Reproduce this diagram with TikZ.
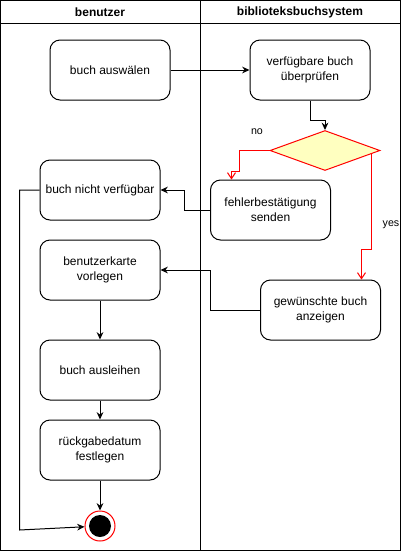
\documentclass[tikz,border=0pt]{standalone}
\usepackage{fontspec}
\setmainfont{Liberation Sans}
\usetikzlibrary{arrows.meta,shapes.geometric,calc}
\definecolor{rautegelb}{HTML}{FFFFC0}

\begin{document}
\begin{tikzpicture}[x=0.75pt,y=-0.75pt,line width=0.75pt,
  font=\fontsize{9}{11}\selectfont,
  aktion/.style={draw,rounded corners=7.5pt,minimum width=90pt,minimum height=45pt,align=center},
  pfeil/.style={-{Stealth[length=5.5pt,width=5pt]}},
  rotpfeil/.style={red,-{Straight Barb[length=4.5pt,width=6pt]}}]
  \useasboundingbox (0,0) rectangle (401,551);

  % Bahnen
  \draw (0.5,0.5) rectangle (400.5,550.5);
  \draw (0.5,23) -- (400.5,23);
  \draw (200.5,0.5) -- (200.5,550.5);
  \node[font=\fontsize{9}{11}\selectfont\bfseries] (kopfa) at (100,12) {benutzer};
  \node[font=\fontsize{9}{11}\selectfont\bfseries] (kopfb) at (300,12) {biblioteksbuchsystem};

  % Aktionen
  \node[aktion] (auswahl) at (110,70) {buch auswälen};
  \node[aktion] (pruefen) at (310,70) {verfügbare buch\\überprüfen};
  \node[diamond,draw=red,fill=rautegelb,inner sep=0pt,minimum width=82.5pt,minimum height=30pt] (raute) at (325,150.5) {};
  \node[aktion] (fehler) at (270.5,210) {fehlerbestätigung\\senden};
  \node[aktion] (nicht) at (100,190) {buch nicht verfügbar};
  \node[aktion] (karte) at (100,270) {benutzerkarte\\vorlegen};
  \node[aktion] (anzeigen) at (320.5,310) {gewünschte buch\\anzeigen};
  \node[aktion] (ausleihen) at (100,370) {buch ausleihen};
  \node[aktion] (rueckgabe) at (100,450) {rückgabedatum\\festlegen};
  \node[circle,draw=red,fill=white,minimum size=22.5pt,inner sep=0pt] (ende) at (100,526) {};
  \node[circle,fill=black,minimum size=16.5pt,inner sep=0pt] (endekern) at (ende.center) {};

  % Beschriftungen
  \node[font=\fontsize{8}{10}\selectfont] (nein) at (257,132) {no};
  \node[font=\fontsize{8}{10}\selectfont] (ja) at (391,225) {yes};

  % Verbindungen
  \draw[pfeil] (auswahl.east) -- (pruefen.west);
  \draw[pfeil] (pruefen.south) -- ++(0,20) -| (raute.north);
  \draw[rotpfeil] (raute.west) -- ++(-30,0) -- ++(0,21) -| ($(fehler.north)+(-39,0)$);
  \coordinate (jastart) at ($(raute.east)!0.16!(raute.south)$);
  \draw[rotpfeil] (jastart) |- ($(anzeigen.north)+(41,-30)$) -- ($(anzeigen.north)+(41,0)$);
  \draw[pfeil] (fehler.west) -- ++(-26,0) |- (nicht.east);
  \draw[pfeil] (anzeigen.west) -- ++(-50,0) |- (karte.east);
  \draw[pfeil] (nicht.west) -- ++(-20,0) -- ++(0,340) -- (ende);
  \draw[pfeil] (karte.south) -- (ausleihen.north);
  \draw[pfeil] (ausleihen.south) -- (rueckgabe.north);
  \draw[pfeil] (rueckgabe.south) -- (ende.north);
\end{tikzpicture}
\end{document}
